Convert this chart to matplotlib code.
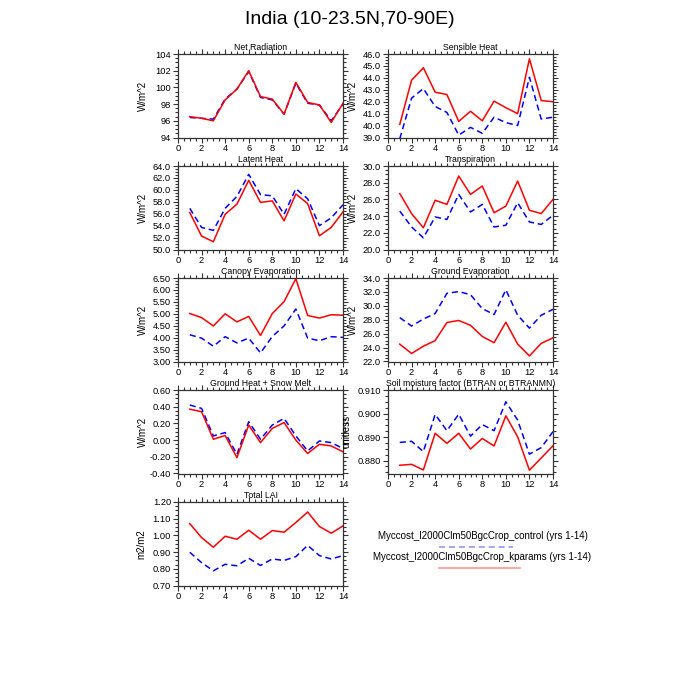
import matplotlib
matplotlib.use("Agg")
import matplotlib.pyplot as plt
from matplotlib.ticker import MultipleLocator, AutoMinorLocator, FormatStrFormatter
from matplotlib.lines import Line2D

plt.rcParams['font.family'] = ['Liberation Sans', 'DejaVu Sans']

years = list(range(1, 15))

titles = ["Net Radiation", "Sensible Heat", "Latent Heat", "Transpiration",
          "Canopy Evaporation", "Ground Evaporation", "Ground Heat + Snow Melt",
          "Soil moisture factor (BTRAN or BTRANMN)", "Total LAI"]
units = ["W/m^2", "W/m^2", "W/m^2", "W/m^2", "W/m^2", "W/m^2", "W/m^2", "unitless", "m2/m2"]

net_rad_ctl = [96.4, 96.3, 96.2, 98.6, 99.8, 101.9, 98.8, 98.5, 96.8, 100.5, 98.1, 97.9, 96.0, 98.0]
net_rad_kp = [96.5, 96.3, 96.0, 98.5, 99.8, 102.0, 98.9, 98.6, 96.8, 100.6, 98.2, 97.9, 95.8, 98.1]

sens_ctl = [38.9, 42.3, 43.1, 41.6, 41.1, 39.2, 39.85, 39.35, 40.7, 40.25, 40.0, 44.05, 40.55, 40.7]
sens_kp = [40.1, 43.8, 44.85, 42.8, 42.6, 40.35, 41.2, 40.4, 42.05, 41.5, 41.0, 45.6, 42.1, 42.0]

lat_ctl = [56.9, 53.7, 53.2, 56.9, 58.9, 62.6, 59.2, 59.0, 55.9, 60.2, 58.5, 54.0, 55.3, 57.5]
lat_kp = [56.2, 52.25, 51.3, 55.9, 57.6, 61.6, 57.9, 58.15, 54.8, 59.3, 57.7, 52.3, 53.7, 56.3]

tran_ctl = [24.6, 22.7, 21.4, 23.9, 23.6, 26.6, 24.5, 25.4, 22.7, 22.9, 25.6, 23.3, 23.0, 24.1]
tran_kp = [26.7, 24.3, 22.6, 25.9, 25.4, 28.8, 26.6, 27.6, 24.4, 25.2, 28.2, 24.7, 24.3, 26.0]

cevap_ctl = [4.12, 3.98, 3.64, 4.04, 3.78, 3.98, 3.36, 4.05, 4.49, 5.2, 3.98, 3.87, 4.04, 4.01]
cevap_kp = [5.01, 4.84, 4.49, 5.0, 4.66, 4.89, 4.09, 5.01, 5.51, 6.47, 4.93, 4.82, 4.96, 4.94]

gevap_ctl = [28.3, 27.1, 28.1, 28.9, 31.8, 32.05, 31.6, 29.6, 28.75, 32.3, 28.65, 26.8, 28.65, 29.5]
gevap_kp = [24.5, 23.15, 24.2, 25.0, 27.6, 27.9, 27.2, 25.6, 24.7, 27.65, 24.5, 22.8, 24.6, 25.4]

gheat_ctl = [0.42, 0.38, 0.05, 0.09, -0.17, 0.22, 0.01, 0.18, 0.26, 0.05, -0.13, -0.01, -0.03, -0.10]
gheat_kp = [0.37, 0.34, 0.01, 0.055, -0.21, 0.18, -0.03, 0.14, 0.21, 0.0, -0.16, -0.05, -0.07, -0.14]

btran_ctl = [0.8877, 0.8882, 0.8838, 0.8996, 0.8927, 0.8997, 0.8904, 0.8953, 0.8927, 0.905, 0.8972, 0.8827, 0.8855, 0.8923]
btran_kp = [0.878, 0.8784, 0.876, 0.8916, 0.8873, 0.8916, 0.8849, 0.8894, 0.8862, 0.899, 0.8901, 0.8759, 0.8811, 0.8863]

lai_ctl = [0.899, 0.837, 0.788, 0.827, 0.818, 0.863, 0.82, 0.859, 0.85, 0.873, 0.94, 0.879, 0.859, 0.879]
lai_kp = [1.07, 0.987, 0.929, 0.995, 0.977, 1.031, 0.977, 1.029, 1.019, 1.077, 1.14, 1.053, 1.013, 1.057]

ctl_series = [net_rad_ctl, sens_ctl, lat_ctl, tran_ctl, cevap_ctl, gevap_ctl, gheat_ctl, btran_ctl, lai_ctl]
kp_series = [net_rad_kp, sens_kp, lat_kp, tran_kp, cevap_kp, gevap_kp, gheat_kp, btran_kp, lai_kp]

ylims = [(94, 104), (39, 46), (50, 64), (20, 30), (3.0, 6.5), (22, 34), (-0.4, 0.6), (0.8745, 0.910), (0.70, 1.20)]
ysteps = [2, 1, 2, 2, 0.5, 2, 0.2, 0.01, 0.1]
yfmts = ["%d", "%.1f", "%.1f", "%.1f", "%.2f", "%.1f", "%.2f", "%.3f", "%.2f"]
ylabel_x = [-0.18, -0.18, -0.18, -0.18, -0.18, -0.18, -0.18, -0.22, -0.19]

legend_labels = ["Myccost_I2000Clm50BgcCrop_control (yrs 1-14)",
                 "Myccost_I2000Clm50BgcCrop_kparams (yrs 1-14)"]

W = H = 700.0
fig = plt.figure(figsize=(7, 7), dpi=100)

col_left = [178, 388]
row_top = [54, 166, 278, 390, 502]
aw, ah = 165, 83.5

for i in range(9):
    r, c = divmod(i, 2)
    ax = fig.add_axes([col_left[c] / W, 1 - (row_top[r] + ah) / H, aw / W, ah / H])
    ax.plot(years, ctl_series[i], color='blue', lw=1.1, ls=(0, (4, 2.5)), clip_on=True)
    ax.plot(years, kp_series[i], color='red', lw=1.1)
    ax.set_xlim(0, 14)
    ax.set_ylim(*ylims[i])
    ax.xaxis.set_major_locator(MultipleLocator(2))
    ax.xaxis.set_minor_locator(AutoMinorLocator(4))
    ax.yaxis.set_major_locator(MultipleLocator(ysteps[i]))
    ax.yaxis.set_minor_locator(AutoMinorLocator(4))
    ax.yaxis.set_major_formatter(FormatStrFormatter(yfmts[i]))
    ax.tick_params(which='both', direction='out', top=True, right=True, labelsize=6.7,
                   width=0.8, color='#333333', pad=1.5)
    ax.tick_params(which='major', length=3.5)
    ax.tick_params(which='minor', length=2)
    for s in ax.spines.values():
        s.set_linewidth(0.9)
        s.set_color('#333333')
    ax.set_title(titles[i], fontsize=6.3, pad=3)
    ax.set_ylabel(units[i], fontsize=7)
    ax.yaxis.set_label_coords(ylabel_x[i], 0.5)

fig.text(350 / W, 1 - 20 / H, "India (10-23.5N,70-90E)", ha='center', va='center', fontsize=14)

fig.text(482.5 / W, 1 - 536 / H, legend_labels[0], ha='center', va='center', fontsize=7)
fig.text(482.5 / W, 1 - 557.5 / H, legend_labels[1], ha='center', va='center', fontsize=7)
fig.add_artist(Line2D([439 / W, 513 / W], [1 - 547 / H, 1 - 547 / H], color='blue', alpha=0.45,
                      lw=1.1, ls=(0, (4, 2.5)), transform=fig.transFigure))
fig.add_artist(Line2D([439 / W, 520 / W], [1 - 568 / H, 1 - 568 / H], color='red', alpha=0.45,
                      lw=1.1, transform=fig.transFigure))

fig.savefig("out.png", dpi=100)
